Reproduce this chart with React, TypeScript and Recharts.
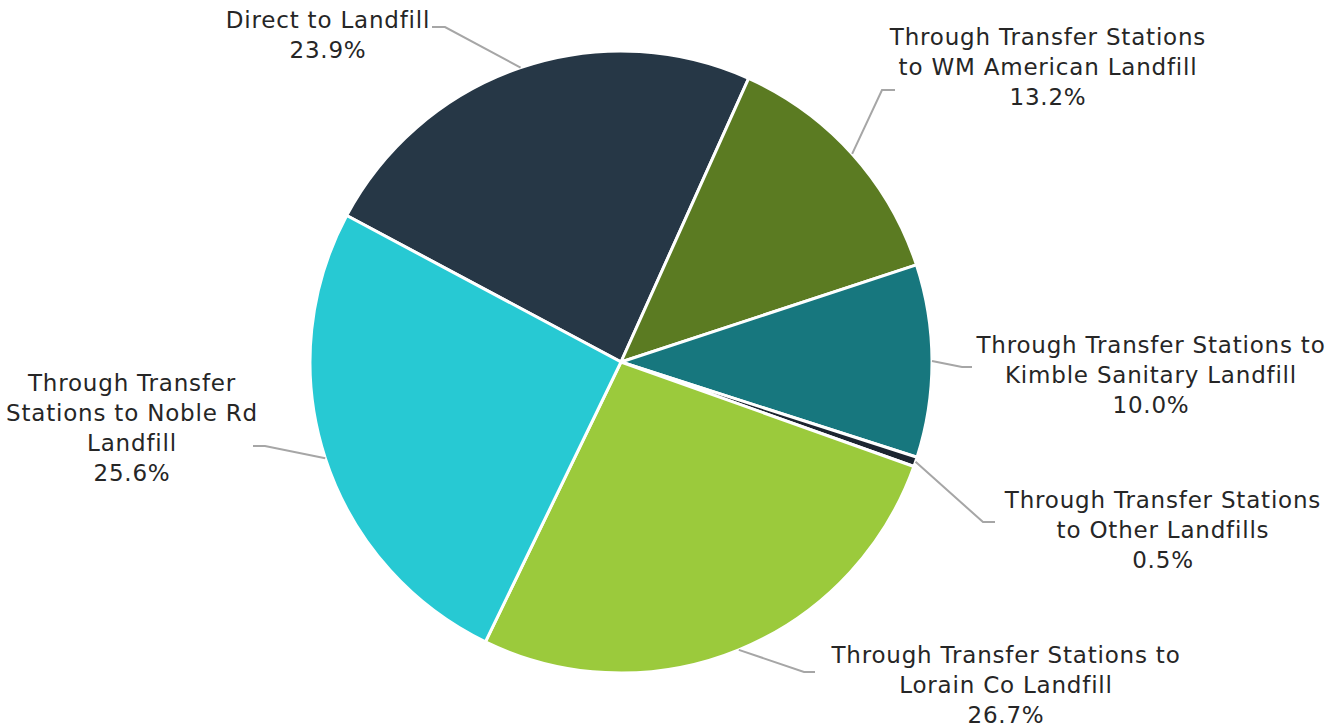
import { PieChart, Pie, Cell } from "recharts";

const categories = [
  "Direct to Landfill",
  "Through Transfer Stations to WM American Landfill",
  "Through Transfer Stations to Kimble Sanitary Landfill",
  "Through Transfer Stations to Other Landfills",
  "Through Transfer Stations to Lorain Co Landfill",
  "Through Transfer Stations to Noble Rd Landfill",
];
const shares = [23.9, 13.2, 10.0, 0.5, 26.7, 25.6];
const labelLines = [
  ["Direct to Landfill"],
  ["Through Transfer Stations", "to WM American Landfill"],
  ["Through Transfer Stations to", "Kimble Sanitary Landfill"],
  ["Through Transfer Stations", "to Other Landfills"],
  ["Through Transfer Stations to", "Lorain Co Landfill"],
  ["Through Transfer", "Stations to Noble Rd", "Landfill"],
];
const colors = ["#263746", "#5b7b22", "#17777e", "#1c2530", "#9bca3c", "#27c9d3"];

// label placement relative to pie centre: elbow of leader, end of leader, text centre, first baseline
const labelPos = [
  { ex: -176, ey: -335, hx: -189, tx: -293, ty: -334 },
  { ex: 261, ey: -272, hx: 274, tx: 427, ty: -317 },
  { ex: 341, ey: 5, hx: 351, tx: 530, ty: -9 },
  { ex: 362, ey: 160, hx: 374, tx: 542, ty: 146 },
  { ex: 183, ey: 310, hx: 194, tx: 385, ty: 301 },
  { ex: -356, ey: 84, hx: -368, tx: -489, ty: 29 },
];

const data = categories.map((name, i) => ({ name, value: shares[i] }));

const RADIAN = Math.PI / 180;
const LINE_H = 30;

function renderLabel(props: any) {
  const { cx, cy, midAngle, outerRadius, index } = props;
  const p = labelPos[index];
  const sx = cx + outerRadius * Math.cos(-midAngle * RADIAN);
  const sy = cy + outerRadius * Math.sin(-midAngle * RADIAN);
  const lines = [...labelLines[index], shares[index].toFixed(1) + "%"];
  return (
    <g key={`lbl-${index}`}>
      <polyline
        points={`${sx},${sy} ${cx + p.ex},${cy + p.ey} ${cx + p.hx},${cy + p.ey}`}
        fill="none"
        stroke="#a6a6a6"
        strokeWidth={2}
      />
      <text
        x={cx + p.tx}
        y={cy + p.ty}
        textAnchor="middle"
        fill="#262626"
        fontSize={23}
        letterSpacing={0.8}
        fontFamily="DejaVu Sans"
      >
        {lines.map((l, j) => (
          <tspan key={j} x={cx + p.tx} dy={j === 0 ? 0 : LINE_H}>
            {l}
          </tspan>
        ))}
      </text>
    </g>
  );
}

export default function App() {
  return (
    <div style={{ position: "absolute", left: 0, top: 0, background: "#fff" }}>
      <PieChart width={1341} height={728} margin={{ top: 0, right: 0, bottom: 0, left: 0 }}>
        <Pie
          data={data}
          dataKey="value"
          nameKey="name"
          cx={621}
          cy={362}
          outerRadius={311}
          startAngle={151.9}
          endAngle={-208.1}
          stroke="#ffffff"
          strokeWidth={3}
          label={renderLabel}
          labelLine={false}
          isAnimationActive={false}
        >
          {data.map((d, i) => (
            <Cell key={d.name} fill={colors[i]} />
          ))}
        </Pie>
      </PieChart>
    </div>
  );
}
